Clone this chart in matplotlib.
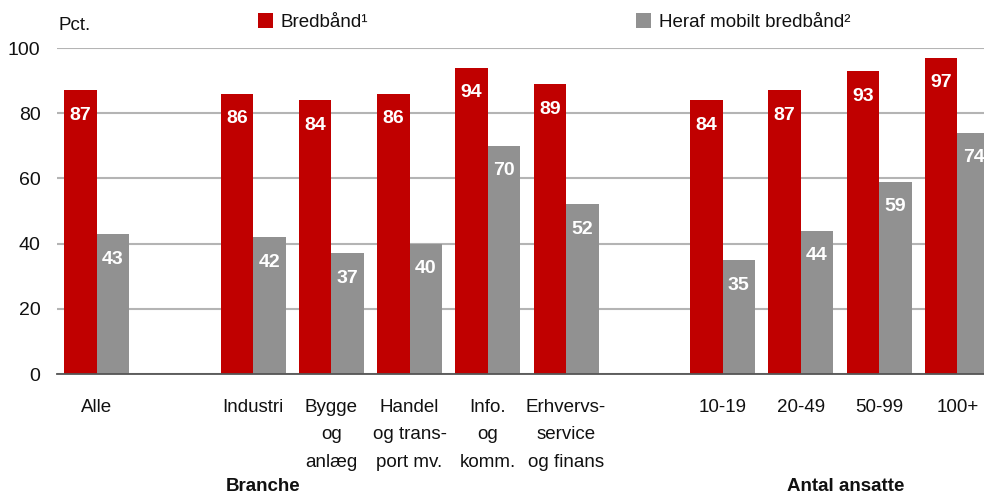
import matplotlib
matplotlib.use("Agg")
import matplotlib.pyplot as plt
import numpy as np

plt.rcParams['font.family'] = ['Liberation Sans', 'DejaVu Sans']

# data
categories = ["Alle", "Industri", "Bygge\nog\nanlæg", "Handel\nog trans-\nport mv.",
              "Info.\nog\nkomm.", "Erhvervs-\nservice\nog finans",
              "10-19", "20-49", "50-99", "100+"]
positions = [0, 2, 3, 4, 5, 6, 8, 9, 10, 11]
bredbaand = [87, 86, 84, 86, 94, 89, 84, 87, 93, 97]
mobilt = [43, 42, 37, 40, 70, 52, 35, 44, 59, 74]

red = "#C00000"
grey = "#919191"
w = 0.415

fig = plt.figure(figsize=(9.84, 4.95), dpi=100)
ax = fig.add_axes([0.058, 0.2444, 0.942, 0.6586])

x = np.array(positions)
b1 = ax.bar(x - w / 2, bredbaand, width=w, color=red, label="Bredbånd¹", zorder=3)
b2 = ax.bar(x + w / 2, mobilt, width=w, color=grey, label="Heraf mobilt bredbånd²", zorder=3)

for bars, vals in [(b1, bredbaand), (b2, mobilt)]:
    for rect, v in zip(bars, vals):
        ax.annotate(f"{v}", (rect.get_x() + rect.get_width() / 2, v),
                    xytext=(0, -12), textcoords="offset points",
                    ha="center", va="top", color="white",
                    fontsize=14, fontweight="bold", zorder=4)

ax.set_xlim(-0.505, 11.34)
ax.set_ylim(0, 100)
ax.set_yticks([0, 20, 40, 60, 80, 100])
ax.yaxis.grid(True, color="#B4B4B4", linewidth=1.5, zorder=0)
ax.set_axisbelow(True)
for s in ["top", "right", "left"]:
    ax.spines[s].set_visible(False)
ax.spines["bottom"].set_color("#555555")
ax.spines["bottom"].set_linewidth(1.3)
ax.spines["bottom"].set_zorder(5)

ax.set_xticks(x)
ax.set_xticklabels(categories, fontsize=13.5, linespacing=1.8, va="top")
ax.tick_params(axis="x", length=0, pad=18, colors="#111111")
ax.tick_params(axis="y", length=0, pad=12, labelsize=14, colors="#111111")

fig.text(59 / 984, 1 - 25 / 495, "Pct.", fontsize=13.5, va="center", ha="left", color="#111111")

trans = ax.get_xaxis_transform()
ax.text(2.13, -0.345, "Branche", transform=trans, ha="center", va="center",
        fontsize=13.5, fontweight="bold", color="#111111")
ax.text(9.57, -0.345, "Antal ansatte", transform=trans, ha="center", va="center",
        fontsize=13.5, fontweight="bold", color="#111111")

leg = fig.legend(handles=[b1, b2], loc="center left", bbox_to_anchor=(258 / 984, 1 - 22 / 495),
                 ncol=2, frameon=False, fontsize=13.5, handlelength=0.8, handleheight=0.8,
                 handletextpad=0.4, columnspacing=14.3, borderaxespad=0, borderpad=0)
for t in leg.get_texts():
    t.set_color("#111111")

fig.savefig("out.png", dpi=100)
